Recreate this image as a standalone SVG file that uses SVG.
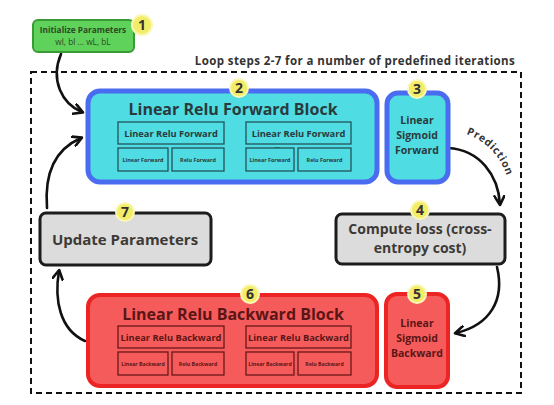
<svg xmlns="http://www.w3.org/2000/svg" width="554" height="405" viewBox="0 0 554 405">
<defs>
<marker id="ah" viewBox="0 0 12 12" refX="9" refY="6" markerWidth="12" markerHeight="12" markerUnits="userSpaceOnUse" orient="auto">
<path d="M1,1 L10,6 L1,11" fill="none" stroke="#111" stroke-width="2.6" stroke-linecap="round" stroke-linejoin="round"/>
</marker>
<path id="predPath" d="M466,134 Q500,146 509,184"/>
</defs>
<style>
text{font-family:"Open Sans","Noto Sans",sans-serif;font-weight:700;text-anchor:middle}
.fwd{fill:#4fdce2;stroke:#4a6cf0;stroke-width:5}
.bwd{fill:#f65b5b;stroke:#ec2424;stroke-width:4}
.gray{fill:#dcdcdc;stroke:#1c1c1c;stroke-width:3}
.inF{fill:none;stroke:#23525a;stroke-width:1.3}
.inB{fill:none;stroke:#6a1818;stroke-width:1.3}
.tF{fill:#2b3a3d}
.tB{fill:#5a1616}
.badge{fill:#f3ec66;stroke:#fbf7b8;stroke-width:2}
.bn{font-size:14px;fill:#333}
.conn{fill:none;stroke:#111;stroke-width:2.6;stroke-linecap:round}
</style>
<rect width="554" height="405" fill="#fff"/>

<g id="loop">
<rect x="31" y="72" width="490" height="321" fill="none" stroke="#111" stroke-width="2" stroke-dasharray="6,4"/>
<text x="355" y="65" style="font-size:11.5px;fill:#333;letter-spacing:0.4px">Loop steps 2-7 for a number of predefined iterations</text>
</g>

<g id="connectors">
<path class="conn" d="M61,54 C50,80 62,104 82,112" marker-end="url(#ah)"/>
<path class="conn" d="M448,148 C480,150 498,175 500,204" marker-end="url(#ah)"/>
<path class="conn" d="M497,267 C505,300 490,325 456,333" marker-end="url(#ah)"/>
<path class="conn" d="M85,341 C60,330 54,300 59,271" marker-end="url(#ah)"/>
<path class="conn" d="M47,208 C44,170 58,148 81,138" marker-end="url(#ah)"/>
<text style="font-size:10.5px;fill:#333;text-anchor:start;letter-spacing:0.7px"><textPath href="#predPath">Prediction</textPath></text>
</g>

<g id="node1">
<rect x="33" y="20" width="101" height="32" rx="5" fill="#5fd25c" stroke="#3a9a36" stroke-width="2"/>
<text x="83" y="33" style="font-size:8.3px;fill:#2e4a22">Initialize Parameters</text>
<text x="83" y="45" style="font-size:8.3px;fill:#2e4a22;font-weight:400">wl, bl ... wL, bL</text>
<circle class="badge" cx="142" cy="25" r="10"/>
<text class="bn" x="142" y="30">1</text>
</g>

<g id="node2">
<rect class="fwd" x="88" y="91" width="289" height="91" rx="12"/>
<text class="tF" x="233" y="115" style="font-size:16px">Linear Relu Forward Block</text>
<rect class="inF" x="118" y="122" width="106" height="22"/>
<text class="tF" x="171" y="137" style="font-size:9.3px">Linear Relu Forward</text>
<rect class="inF" x="118" y="148" width="50" height="23"/>
<text class="tF" x="143" y="162" style="font-size:5.4px">Linear Forward</text>
<rect class="inF" x="172" y="148" width="52" height="23"/>
<text class="tF" x="198" y="162" style="font-size:5.4px">Relu Forward</text>
<rect class="inF" x="246" y="122" width="105" height="22"/>
<text class="tF" x="298.5" y="137" style="font-size:9.3px">Linear Relu Forward</text>
<rect class="inF" x="246" y="148" width="48" height="23"/>
<text class="tF" x="270" y="162" style="font-size:5.4px">Linear Forward</text>
<rect class="inF" x="298" y="148" width="53" height="23"/>
<text class="tF" x="324.5" y="162" style="font-size:5.4px">Relu Forward</text>
<text class="tF" x="277" y="148" style="font-size:6px">...</text>
<circle class="badge" cx="239" cy="88" r="9"/>
<text class="bn" x="239" y="93">2</text>
</g>

<g id="node3">
<rect class="fwd" x="387" y="93" width="61" height="89" rx="11"/>
<text class="tF" x="417" y="124" style="font-size:10.5px">Linear</text>
<text class="tF" x="417" y="139" style="font-size:10.5px">Sigmoid</text>
<text class="tF" x="417" y="154" style="font-size:10.5px">Forward</text>
<circle class="badge" cx="417" cy="89" r="9"/>
<text class="bn" x="417" y="94">3</text>
</g>

<g id="node4">
<rect class="gray" x="336" y="214" width="169" height="50" rx="6"/>
<text x="420" y="234" style="font-size:14px;fill:#3d3a36">Compute loss (cross-</text>
<text x="420" y="253" style="font-size:14px;fill:#3d3a36">entropy cost)</text>
<circle class="badge" cx="420" cy="210" r="9"/>
<text class="bn" x="420" y="215">4</text>
</g>

<g id="node5">
<rect class="bwd" x="386" y="294" width="62" height="93" rx="11"/>
<text class="tB" x="417" y="327" style="font-size:10.5px">Linear</text>
<text class="tB" x="417" y="342" style="font-size:10.5px">Sigmoid</text>
<text class="tB" x="417" y="357" style="font-size:10.5px">Backward</text>
<circle class="badge" cx="417" cy="294" r="9"/>
<text class="bn" x="417" y="299">5</text>
</g>

<g id="node6">
<rect class="bwd" x="88" y="295" width="289" height="91" rx="12"/>
<text class="tB" x="233" y="320" style="font-size:16px">Linear Relu Backward Block</text>
<rect class="inB" x="118" y="326" width="106" height="22"/>
<text class="tB" x="171" y="341" style="font-size:9.3px">Linear Relu Backward</text>
<rect class="inB" x="118" y="352" width="50" height="23"/>
<text class="tB" x="143" y="366" style="font-size:5.2px">Linear Backward</text>
<rect class="inB" x="172" y="352" width="52" height="23"/>
<text class="tB" x="198" y="366" style="font-size:5.2px">Relu Backward</text>
<rect class="inB" x="246" y="326" width="105" height="22"/>
<text class="tB" x="298.5" y="341" style="font-size:9.3px">Linear Relu Backward</text>
<rect class="inB" x="246" y="352" width="48" height="23"/>
<text class="tB" x="270" y="366" style="font-size:5.2px">Linear Backward</text>
<rect class="inB" x="298" y="352" width="53" height="23"/>
<text class="tB" x="324.5" y="366" style="font-size:5.2px">Relu Backward</text>
<circle class="badge" cx="250" cy="294" r="9"/>
<text class="bn" x="250" y="299">6</text>
</g>

<g id="node7">
<rect class="gray" x="40" y="213" width="171" height="52" rx="6"/>
<text x="125" y="245" style="font-size:15px;fill:#3d3a36">Update Parameters</text>
<circle class="badge" cx="125" cy="212" r="9"/>
<text class="bn" x="125" y="217">7</text>
</g>
</svg>
